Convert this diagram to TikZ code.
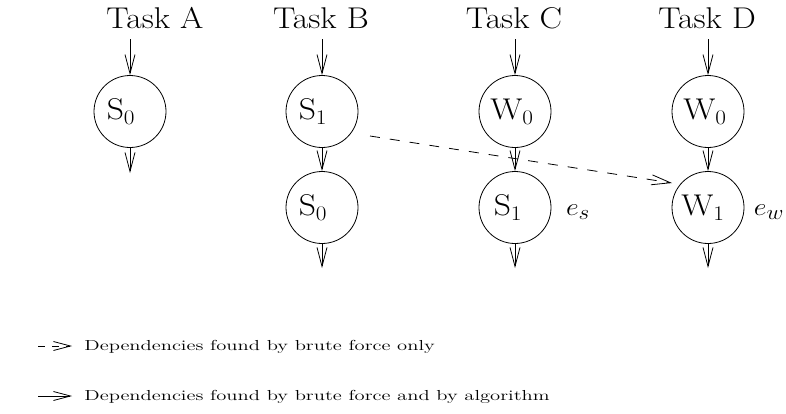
\documentclass[tikz,border=0pt]{standalone}
\usetikzlibrary{arrows.meta}
\newcommand{\wide}[1]{\scalebox{1.12}[1]{#1}}
\begin{document}
\begin{tikzpicture}[x=1pt,y=-1pt,line width=0.8pt,
  state/.style={circle,draw,minimum size=72pt,inner sep=0pt},
  statetext/.style={inner sep=0pt,font=\fontsize{30}{36}\selectfont},
  tasktext/.style={inner sep=0pt,anchor=base,font=\fontsize{30}{36}\selectfont},
  legtext/.style={inner sep=0pt,anchor=base west,font=\fontsize{14.5}{17}\selectfont},
  barb/.style={-{Straight Barb[length=19pt,width=10pt]}},
  smallbarb/.style={-{Straight Barb[length=17pt,width=9pt]}},
  dep/.style={dash pattern=on 10pt off 10pt}]
\useasboundingbox (0,0) rectangle (786,413);

% task titles
\node[tasktext] (tA) at (155,28) {\wide{Task A}};
\node[tasktext] (tB) at (321,28) {\wide{Task B}};
\node[tasktext] (tC) at (514,28) {\wide{Task C}};
\node[tasktext] (tD) at (707,28) {\wide{Task D}};

% states
\node[state] (A0) at (130,111.5) {};
\node[state] (B1) at (322,111.5) {};
\node[state] (B0) at (322,207.5) {};
\node[state] (C0) at (515,111.5) {};
\node[state] (C1) at (515,207.5) {};
\node[state] (D0) at (708,111.5) {};
\node[state] (D1) at (708,207.5) {};

\node[statetext,xshift=-9pt] (lA0) at (A0) {\wide{S$_0$}};
\node[statetext,xshift=-9pt] (lB1) at (B1) {\wide{S$_1$}};
\node[statetext,xshift=-9pt] (lB0) at (B0) {\wide{S$_0$}};
\node[statetext,xshift=-3pt] (lC0) at (C0) {\wide{W$_0$}};
\node[statetext,xshift=-7pt] (lC1) at (C1) {\wide{S$_1$}};
\node[statetext,xshift=-3pt] (lD0) at (D0) {\wide{W$_0$}};
\node[statetext,xshift=-5pt] (lD1) at (D1) {\wide{W$_1$}};

\node[statetext] (es) at (578,212) {\wide{$e_s$}};
\node[statetext] (ew) at (769,212) {\wide{$e_w$}};

% free ends
\coordinate (Ain) at (130,39);
\coordinate (Bin) at (322,39);
\coordinate (Cin) at (515,39);
\coordinate (Din) at (708,39);
\coordinate (Aout) at (130,173);
\coordinate (Bout) at (322,268);
\coordinate (Cout) at (515,268);
\coordinate (Dout) at (708,268);

\draw[barb] (Ain) -- (A0.north);
\draw[barb] (Bin) -- (B1.north);
\draw[barb] (Cin) -- (C0.north);
\draw[barb] (Din) -- (D0.north);
\draw[barb] (A0.south) -- (Aout);
\draw[barb] (B1.south) -- (B0.north);
\draw[barb] (C0.south) -- (C1.north);
\draw[barb] (D0.south) -- (D1.north);
\draw[barb] (B0.south) -- (Bout);
\draw[barb] (C1.south) -- (Cout);
\draw[barb] (D1.south) -- (Dout);

% dashed dependency
\coordinate (ds) at (370,136);
\coordinate (de) at (672,183);
\draw[barb,dep] (ds) -- (de);

% legend
\coordinate (l1s) at (38,346);
\coordinate (l1e) at (72,346);
\coordinate (l2s) at (38,396);
\coordinate (l2e) at (72,396);
\draw[smallbarb,dash pattern=on 7pt off 7pt] (l1s) -- (l1e);
\draw[smallbarb] (l2s) -- (l2e);
\node[legtext] (leg1) at (84,350) {\scalebox{1.42}[1]{Dependencies found by brute force only}};
\node[legtext] (leg2) at (84,400) {\scalebox{1.42}[1]{Dependencies found by brute force and by algorithm}};
\end{tikzpicture}
\end{document}
